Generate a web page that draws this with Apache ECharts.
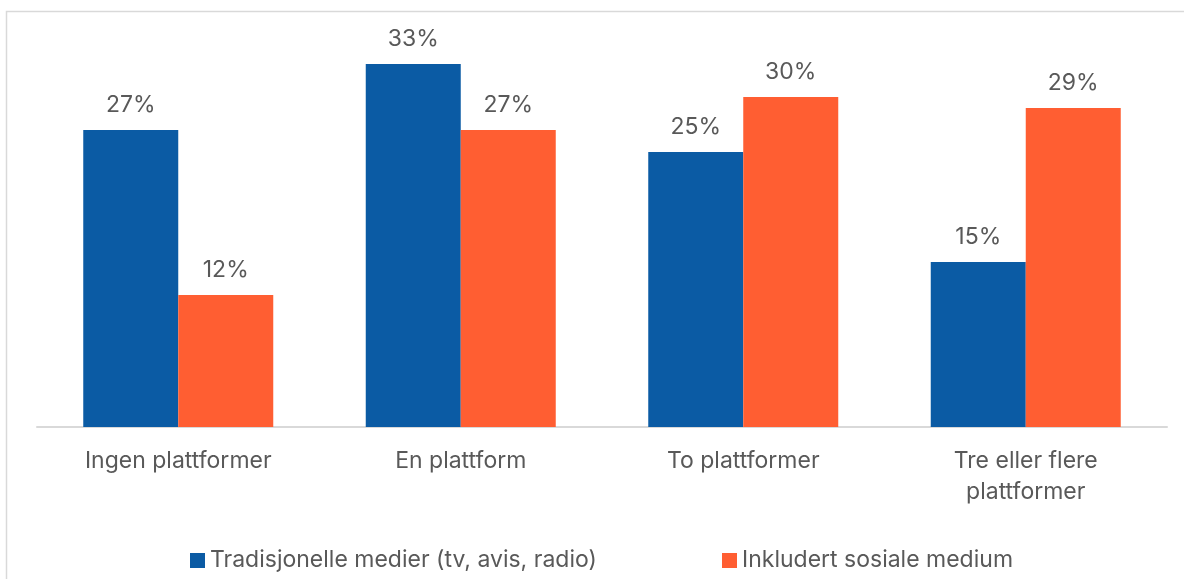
<!DOCTYPE html>
<html>
<head>
<meta charset="utf-8">
<style>
  html, body { margin: 0; padding: 0; background: #ffffff; }
  #chart { width: 1184px; height: 579px; }
</style>
<script src="https://cdn.jsdelivr.net/npm/echarts@6/dist/echarts.min.js"></script>
</head>
<body>
<div id="chart"></div>
<script>
// Number of news platforms used, share of respondents (%)
const categories = ['Ingen plattformer', 'En plattform', 'To plattformer', 'Tre eller flere\nplattformer'];
const seriesNames = ['Tradisjonelle medier (tv, avis, radio)', 'Inkludert sosiale medium'];
const traditional = [27, 33, 25, 15];
const withSocial = [12, 27, 30, 29];

const BLUE = '#0B5BA4';
const ORANGE = '#FF5E32';
const TEXT = '#595959';
const FONT = 'Inter, "Noto Sans", sans-serif';
const FS = 23;

const chart = echarts.init(document.getElementById('chart'), null, { renderer: 'canvas' });

const labelCfg = {
  show: true,
  position: 'top',
  distance: 13,
  formatter: '{c}%',
  color: TEXT,
  fontFamily: FONT,
  fontSize: FS
};

chart.setOption({
  animation: false,
  backgroundColor: '#ffffff',
  graphic: [{
    type: 'rect',
    shape: { x: 6.5, y: 11.5, width: 1300, height: 700 },
    style: { fill: 'none', stroke: '#d9d9d9', lineWidth: 1.5 },
    silent: true
  }],
  grid: { left: 37, right: 17, top: 42, bottom: 152, containLabel: false },
  legend: [
    {
      data: [seriesNames[0]],
      left: 185, top: 544,
      itemWidth: 15, itemHeight: 15, itemGap: 6,
      icon: 'rect',
      textStyle: { color: TEXT, fontFamily: FONT, fontSize: FS }
    },
    {
      data: [seriesNames[1]],
      left: 717, top: 544,
      itemWidth: 15, itemHeight: 15, itemGap: 6,
      icon: 'rect',
      textStyle: { color: TEXT, fontFamily: FONT, fontSize: FS }
    }
  ],
  xAxis: {
    type: 'category',
    data: categories,
    axisLine: { lineStyle: { color: '#d9d9d9', width: 2 } },
    axisTick: { show: false },
    axisLabel: {
      color: TEXT,
      fontFamily: FONT,
      fontSize: FS,
      margin: 19,
      lineHeight: 31,
      interval: 0
    }
  },
  yAxis: {
    type: 'value',
    min: 0,
    max: 35,
    show: false,
    splitLine: { show: false }
  },
  series: [
    {
      name: seriesNames[0],
      type: 'bar',
      data: traditional,
      barWidth: 95,
      barGap: '0%',
      itemStyle: { color: BLUE },
      label: labelCfg
    },
    {
      name: seriesNames[1],
      type: 'bar',
      data: withSocial,
      barWidth: 95,
      barGap: '0%',
      itemStyle: { color: ORANGE },
      label: labelCfg
    }
  ]
});
</script>
</body>
</html>
